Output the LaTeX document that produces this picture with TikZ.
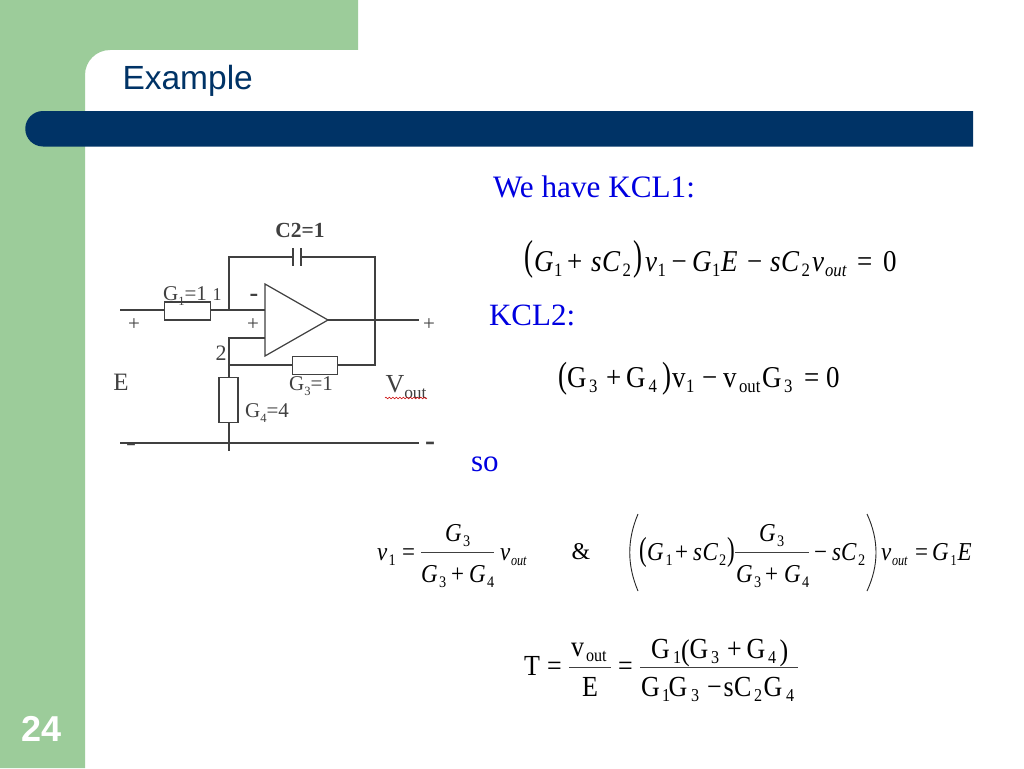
\documentclass[tikz,border=0pt]{standalone}
\usepackage{fontspec}
\setmainfont{Liberation Serif}
\newfontfamily\arialf{Liberation Sans}
\usetikzlibrary{decorations.pathmorphing}
\definecolor{slidegreen}{HTML}{9CCC9A}
\definecolor{slidenavy}{HTML}{003366}
\definecolor{kclblue}{HTML}{0000E0}
\definecolor{wire}{HTML}{404040}
\newcommand{\fs}[1]{\fontsize{#1}{#1}\selectfont}
\newcommand{\sbs}[1]{\raisebox{-.26em}{\scalebox{.6}{#1}}}
% absolute placement inside an equation node (x in picture units)
\def\ox{0}
\newcommand{\at}[2]{\rlap{\hskip\dimexpr#1pt-\ox pt\relax\scalebox{1}[1.12]{#2}}}
\newcommand{\sat}[2]{\rlap{\hskip\dimexpr#1pt-\ox pt\relax\raisebox{-5pt}{\scalebox{.62}[.7]{\upshape #2}}}}
\newcommand{\sats}[2]{\rlap{\hskip\dimexpr#1pt-\ox pt\relax\raisebox{-5pt}{\scalebox{.53}[.66]{\upshape #2}}}}
\newcommand{\pr}[4]{\rlap{\hskip\dimexpr#1pt-\ox pt\relax\raisebox{#3pt}{\scalebox{1}[#2]{\upshape #4}}}}
\tikzset{
  x=1pt,y=-1pt,
  lbl/.style={inner sep=0pt,outer sep=0pt,anchor=base},
  lblw/.style={inner sep=0pt,outer sep=0pt,anchor=base west},
  cct/.style={lbl,text=wire,font=\fs{21}},
  wireline/.style={draw=wire,line width=1.2pt},
  res/.style={draw=wire,line width=1.2pt,fill=white,inner sep=0pt,minimum width=#1},
  fbar/.style={draw=black!75,line width=1pt},
  bigparen/.style={draw=black!85,line width=.9pt}
}
\begin{document}
\begin{tikzpicture}
\useasboundingbox (0,0) rectangle (1024,768);
% slide frame
\fill[white] (0,0) rectangle (1024,768);
\fill[slidegreen] (0,0) -- (358,0) -- (358,50) -- (110,50) arc[start angle=270,end angle=180,radius=25] -- (85,768) -- (0,768) -- cycle;
\fill[slidenavy] (43,111) -- (973,111) -- (973,146.5) -- (43,146.5) arc[start angle=90,end angle=270,radius=17.75] -- cycle;
\node[lblw,text=slidenavy,font=\arialf\fs{33.5}] (title) at (122.5,89) {Example};
\node[lbl,text=white,font=\arialf\bfseries\fs{36}] (pagenum) at (42,741) {24};
% blue text
\node[lblw,text=kclblue,font=\fs{31.2}] (t1) at (493,197) {We have KCL1:};
\node[lblw,text=kclblue,font=\fs{31}] (t2) at (489,325) {KCL2:};
\node[lblw,text=kclblue,font=\fs{31}] (t3) at (471,471) {so};
% circuit
\coordinate (inL) at (120,310);
\coordinate (n1) at (229,310);
\coordinate (opm) at (265,310);
\coordinate (opp) at (265,338);
\coordinate (n2c) at (229,338);
\coordinate (n2) at (229,365);
\coordinate (tl) at (229,257);
\coordinate (tr) at (375,257);
\coordinate (outR) at (419,320);
\coordinate (br) at (375,365);
\coordinate (botL) at (120,443);
\coordinate (botR) at (419,443);
\coordinate (botj) at (229,451);
\coordinate (capL) at (293,257);
\coordinate (capR) at (301,257);
\coordinate (opa) at (265,284);
\coordinate (opb) at (265,356);
\coordinate (opc) at (328,320);
\node[res=45.5pt,minimum height=18pt] (G1) at (187.5,311) {};
\node[res=45.5pt,minimum height=18.5pt] (G3) at (315,365.5) {};
\node[res=19pt,minimum height=45.5pt] (G4) at (228.5,400) {};
\draw[wireline] (inL) -- (G1.west |- inL);
\draw[wireline] (G1.east |- n1) -- (opm);
\draw[wireline] (n1) -- (tl) -- (capL);
\draw[wireline] (capR) -- (tr) -- (br) -- (G3.east |- br);
\draw[wireline] (G3.west |- n2) -- (n2);
\draw[wireline] (opp) -- (n2c) -- (n2) -- (G4.north -| n2);
\draw[wireline] (G4.south -| n2) -- (botj);
\draw[wireline] (opc) -- (outR);
\draw[wireline] (botL) -- (botR);
\draw[wireline] (293,248) -- (293,266);
\draw[wireline] (301,248) -- (301,266);
\draw[wireline] (opa) -- (opb) -- (opc) -- cycle;
\node[cct,font=\bfseries\fs{21.5}] (lc2) at (300,237) {C2=1};
\node[cct] (lg1) at (185,300) {G\sbs{1}=1};
\node[cct,font=\fs{18}] (l1) at (217,300) {1};
\node[cct,font=\bfseries\fs{26}] (lm) at (254,301) {-};
\node[cct,font=\fs{21}] (lp1) at (253,330) {+};
\node[cct,font=\fs{21}] (lp2) at (134,330) {+};
\node[cct,font=\fs{21}] (lp3) at (429,330) {+};
\node[cct,font=\fs{22}] (l2) at (221,360) {2};
\node[cct,font=\fs{25}] (lE) at (121,390) {E};
\node[cct] (lg3) at (311,390) {G\sbs{3}=1};
\node[cct] (lg4) at (267,417) {G\sbs{4}=4};
\node[cct,font=\fs{26}] (lv) at (406,392) {V\sbs{\fs{29}out}};
\draw[red!80!black,line width=.6pt,decorate,decoration={zigzag,amplitude=.8pt,segment length=3.5pt}] (385,398) -- (427,398);
\node[cct,font=\bfseries\fs{30}] (lm2) at (131,451) {-};
\node[cct,font=\bfseries\fs{30}] (lm3) at (430,450) {-};
% KCL1 equation
\node[lblw,font=\fs{27}\itshape] (e1) at (524,271) {\def\ox{524}%
 \pr{524}{1.55}{1.5}{(}\at{534}{G}\sat{554}{1}\at{567}{\upshape +}\at{591}{s}\at{602}{C}\sat{622.5}{2}\pr{633}{1.55}{1.5}{)}\at{645}{v}\sat{657.5}{1}\at{671.5}{\upshape −}\at{692}{G}\sat{712}{1}\at{721}{E}\at{747}{\upshape −}\at{770}{s}\at{781}{C}\sat{801.5}{2}\at{812}{v}\sat{825}{\itshape out}\at{857}{\upshape =}\at{883}{\upshape 0}\hspace*{373pt}};
% KCL2 equation
\node[lblw,font=\fs{27}] (e2) at (558,387) {\def\ox{558}%
 \pr{558}{1.35}{0}{(}\at{567}{G}\sat{589}{3}\at{606}{+}\at{626}{G}\sat{648.5}{4}\pr{662}{1.35}{0}{)}\at{672}{v}\sat{686}{1}\at{702}{−}\at{723}{v}\sat{739}{out}\at{762}{G}\sat{784}{3}\at{804}{=}\at{826}{0}\hspace*{282pt}};
% v1 fraction
\node[lblw,font=\fs{23}\itshape] (a1) at (377,560) {\def\ox{377}\at{377}{v}\sat{388.5}{1}\at{402}{\upshape =}\hspace*{37pt}};
\node[lblw,font=\fs{23}\itshape] (a2) at (445,541.5) {\def\ox{445}\at{445}{G}\sat{463}{3}\hspace*{23pt}};
\node[lblw,font=\fs{23}\itshape] (a3) at (421,582) {\def\ox{421}\at{421}{G}\sat{439}{3}\at{451}{\upshape +}\at{469}{G}\sat{487}{4}\hspace*{71pt}};
\draw[fbar] (421,552.7) -- (494,552.7);
\node[lblw,font=\fs{23}\itshape] (a4) at (500,560) {\def\ox{500}\at{500}{v}\sats{511}{\itshape out}\hspace*{26pt}};
\node[lblw,font=\fs{24}] (amp) at (571.5,559) {\&};
% second equation
\draw[bigparen] (638,514) .. controls (627,540) and (627,565) .. (638,591);
\node[lblw,font=\fs{23}\itshape] (b1) at (639,560) {\def\ox{639}\pr{639}{1.45}{0}{(}\at{647}{G}\sat{665.5}{1}\at{675}{\upshape +}\at{693}{s}\at{702.5}{C}\sat{719}{2}\pr{727}{1.45}{0}{)}\hspace*{95pt}};
\node[lblw,font=\fs{23}\itshape] (b2) at (759,541.5) {\def\ox{759}\at{759}{G}\sat{777}{3}\hspace*{23pt}};
\node[lblw,font=\fs{23}\itshape] (b3) at (736,582) {\def\ox{736}\at{736}{G}\sat{754}{3}\at{765}{\upshape +}\at{784}{G}\sat{802}{4}\hspace*{71pt}};
\draw[fbar] (735,552.7) -- (809,552.7);
\node[lblw,font=\fs{23}\itshape] (b4) at (814,560) {\def\ox{814}\at{814}{\upshape −}\at{832}{s}\at{841}{C}\sat{858}{2}\hspace*{52pt}};
\draw[bigparen] (867,514) .. controls (879,540) and (879,565) .. (867,591);
\node[lblw,font=\fs{23}\itshape] (b5) at (881,560) {\def\ox{881}\at{881}{v}\sats{892}{\itshape out}\at{915}{\upshape =}\at{932}{G}\sats{950.5}{1}\at{957.5}{E}\hspace*{91pt}};
% T equation
\node[lblw,font=\fs{26}] (c1) at (524,675) {\def\ox{524}\at{524}{T}\at{547}{=}\hspace*{39pt}};
\node[lblw,font=\fs{26}] (c2) at (571,656) {\def\ox{571}\at{571}{v}\sat{586}{out}\hspace*{36pt}};
\node[lblw,font=\fs{26}] (c3) at (582,696) {\def\ox{582}\at{582}{E}\hspace*{17pt}};
\draw[fbar] (569,667) -- (611,667);
\node[lblw,font=\fs{26}] (c4) at (618,675) {\def\ox{618}\at{618}{=}\hspace*{15pt}};
\node[lblw,font=\fs{26}] (c5) at (651,658) {\def\ox{651}\at{651}{G}\sat{673}{1}\pr{681}{1.15}{-2}{(}\at{689.5}{G}\sat{711}{3}\at{727}{+}\at{746.5}{G}\sat{768}{4}\pr{779.5}{1.15}{-2}{)}\hspace*{138pt}};
\node[lblw,font=\fs{26}] (c6) at (641,696) {\def\ox{641}\at{641}{G}\sat{662}{1}\at{668.5}{G}\sat{691}{3}\at{707}{−}\at{723.5}{s}\at{734}{C}\sat{754}{2}\at{763.5}{G}\sat{786}{4}\hspace*{152pt}};
\draw[fbar] (640,667) -- (798,667);
\end{tikzpicture}
\end{document}
